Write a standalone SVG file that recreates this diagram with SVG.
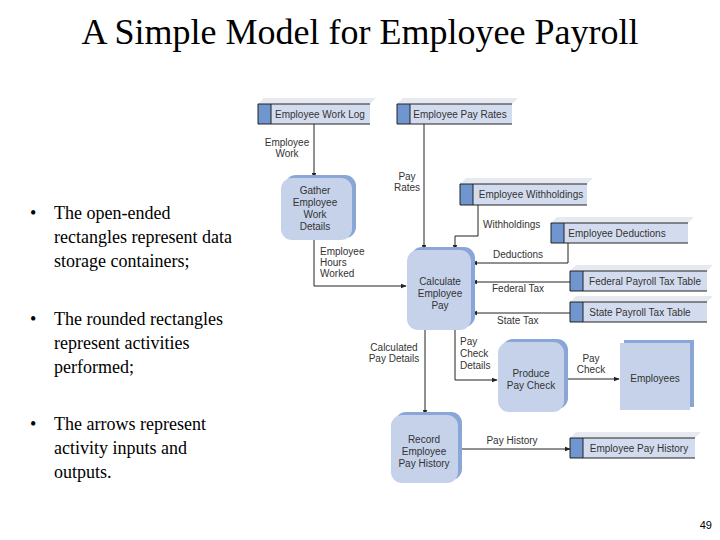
<svg xmlns="http://www.w3.org/2000/svg" width="720" height="540" viewBox="0 0 720 540">
<defs>
<style>
.t{font-family:"Liberation Sans",Arial,sans-serif;font-size:10px;fill:#333}
.b{font-family:"Liberation Serif","Times New Roman",serif;font-size:18px;fill:#000}
.st{fill:#d3dcee}
.tab{fill:#6f96cf}
.sh{fill:#e6e9ef}
.ln{stroke:#222;stroke-width:1;fill:none}
.act{fill:#c5d2ea}
.ash{fill:#8aa6d6}
.c{stroke:#222;stroke-width:1;fill:none;marker-end:url(#a)}
</style>
<marker id="a" viewBox="0 0 8 8" refX="7" refY="4" markerWidth="6" markerHeight="6" orient="auto"><path d="M0,1 L8,4 L0,7z" fill="#222"/></marker>
</defs>
<rect width="720" height="540" fill="#fff"/>
<text x="360" y="44" text-anchor="middle" font-family="Liberation Serif,Times New Roman,serif" font-size="36">A Simple Model for Employee Payroll</text>
<text class="b" x="30" y="219">•</text><text class="b" x="54" y="219">The open-ended</text><text class="b" x="54" y="243">rectangles represent data</text><text class="b" x="54" y="267">storage containers;</text>
<text class="b" x="30" y="325">•</text><text class="b" x="54" y="325">The rounded rectangles</text><text class="b" x="54" y="349">represent activities</text><text class="b" x="54" y="373">performed;</text>
<text class="b" x="30" y="430">•</text><text class="b" x="54" y="430">The arrows represent</text><text class="b" x="54" y="454">activity inputs and</text><text class="b" x="54" y="478">outputs.</text>
<text x="712" y="529" text-anchor="end" font-family="Liberation Sans,Arial,sans-serif" font-size="11">49</text>

<g id="connectors">
<path class="c" d="M314,124 V178"/>
<path class="c" d="M314,240 V286 H406"/>
<path class="c" d="M424,124 V250"/>
<path class="c" d="M478,205 V236 H455 V250"/>
<path class="c" d="M568,243 V263 H472"/>
<path class="c" d="M570,282 H472"/>
<path class="c" d="M570,313 H472"/>
<path class="c" d="M425,330 V415"/>
<path class="c" d="M455,330 V380 H497"/>
<path class="c" d="M563,379 H619"/>
<path class="c" d="M458,449 H570"/>
<text class="t" x="287" y="146" text-anchor="middle">Employee</text><text class="t" x="287" y="157" text-anchor="middle">Work</text>
<text class="t" x="407" y="180" text-anchor="middle">Pay</text><text class="t" x="407" y="191" text-anchor="middle">Rates</text>
<text class="t" x="483" y="228">Withholdings</text>
<text class="t" x="493" y="258">Deductions</text>
<text class="t" x="492" y="292">Federal Tax</text>
<text class="t" x="497" y="324">State Tax</text>
<text class="t" x="320" y="255">Employee</text><text class="t" x="320" y="266">Hours</text><text class="t" x="320" y="277">Worked</text>
<text class="t" x="394" y="351" text-anchor="middle">Calculated</text><text class="t" x="394" y="362" text-anchor="middle">Pay Details</text>
<text class="t" x="460" y="345">Pay</text><text class="t" x="460" y="357">Check</text><text class="t" x="460" y="369">Details</text>
<text class="t" x="591" y="362" text-anchor="middle">Pay</text><text class="t" x="591" y="373" text-anchor="middle">Check</text>
<text class="t" x="512" y="444" text-anchor="middle">Pay History</text>
</g>

<g id="s-worklog"><path class="sh" d="M258,104 L264,98 H376 L370,104z"/><rect class="st" x="258" y="104" width="112" height="20"/><rect class="tab" x="258" y="104" width="13" height="20"/><path class="ln" d="M370,104 H258 V124 H370 M271,104 V124"/><text class="t" x="320" y="118" text-anchor="middle">Employee Work Log</text></g>
<g id="s-payrates"><path class="sh" d="M397,104 L403,98 H518 L512,104z"/><rect class="st" x="397" y="104" width="115" height="20"/><rect class="tab" x="397" y="104" width="13" height="20"/><path class="ln" d="M512,104 H397 V124 H512 M410,104 V124"/><text class="t" x="460" y="118" text-anchor="middle">Employee Pay Rates</text></g>
<g id="s-withh"><path class="sh" d="M460,184 L466,178 H593 L587,184z"/><rect class="st" x="460" y="184" width="127" height="21"/><rect class="tab" x="460" y="184" width="13" height="21"/><path class="ln" d="M587,184 H460 V205 H587 M473,184 V205"/><text class="t" x="531" y="198" text-anchor="middle">Employee Withholdings</text></g>
<g id="s-deduct"><path class="sh" d="M551,223 L557,217 H694 L688,223z"/><rect class="st" x="551" y="223" width="137" height="20"/><rect class="tab" x="551" y="223" width="13" height="20"/><path class="ln" d="M688,223 H551 V243 H688 M564,223 V243"/><text class="t" x="617" y="237" text-anchor="middle">Employee Deductions</text></g>
<g id="s-fed"><path class="sh" d="M570,271 L576,265 H713 L707,271z"/><rect class="st" x="570" y="271" width="137" height="20"/><rect class="tab" x="570" y="271" width="13" height="20"/><path class="ln" d="M707,271 H570 V291 H707 M583,271 V291"/><text class="t" x="645" y="285" text-anchor="middle">Federal Payroll Tax Table</text></g>
<g id="s-state"><path class="sh" d="M570,302 L576,296 H713 L707,302z"/><rect class="st" x="570" y="302" width="137" height="20"/><rect class="tab" x="570" y="302" width="13" height="20"/><path class="ln" d="M707,302 H570 V322 H707 M583,302 V322"/><text class="t" x="640" y="316" text-anchor="middle">State Payroll Tax Table</text></g>
<g id="s-hist"><path class="sh" d="M570,438 L576,432 H701 L695,438z"/><rect class="st" x="570" y="438" width="125" height="20"/><rect class="tab" x="570" y="438" width="13" height="20"/><path class="ln" d="M695,438 H570 V458 H695 M583,438 V458"/><text class="t" x="639" y="452" text-anchor="middle">Employee Pay History</text></g>

<g id="a-gather"><rect class="ash" x="285" y="175" width="71" height="63" rx="11"/><rect class="act" x="281" y="178" width="71" height="62" rx="11"/><text class="t" x="315" y="194" text-anchor="middle">Gather</text><text class="t" x="315" y="206" text-anchor="middle">Employee</text><text class="t" x="315" y="218" text-anchor="middle">Work</text><text class="t" x="315" y="230" text-anchor="middle">Details</text></g>
<g id="a-calc"><rect class="ash" x="411" y="247" width="64" height="80" rx="11"/><rect class="act" x="407" y="250" width="64" height="80" rx="11"/><text class="t" x="440" y="285" text-anchor="middle">Calculate</text><text class="t" x="440" y="297" text-anchor="middle">Employee</text><text class="t" x="440" y="309" text-anchor="middle">Pay</text></g>
<g id="a-produce"><rect class="ash" x="502" y="339" width="66" height="70" rx="11"/><rect class="act" x="498" y="342" width="66" height="70" rx="11"/><text class="t" x="531" y="377" text-anchor="middle">Produce</text><text class="t" x="531" y="389" text-anchor="middle">Pay Check</text></g>
<g id="a-record"><rect class="ash" x="395" y="412" width="67" height="68" rx="11"/><rect class="act" x="391" y="415" width="67" height="68" rx="11"/><text class="t" x="424" y="443" text-anchor="middle">Record</text><text class="t" x="424" y="455" text-anchor="middle">Employee</text><text class="t" x="424" y="467" text-anchor="middle">Pay History</text></g>
<g id="e-employees"><rect class="ash" x="624" y="340" width="70" height="67"/><rect class="act" x="620" y="343" width="70" height="67"/><text class="t" x="655" y="382" text-anchor="middle">Employees</text></g>
</svg>
